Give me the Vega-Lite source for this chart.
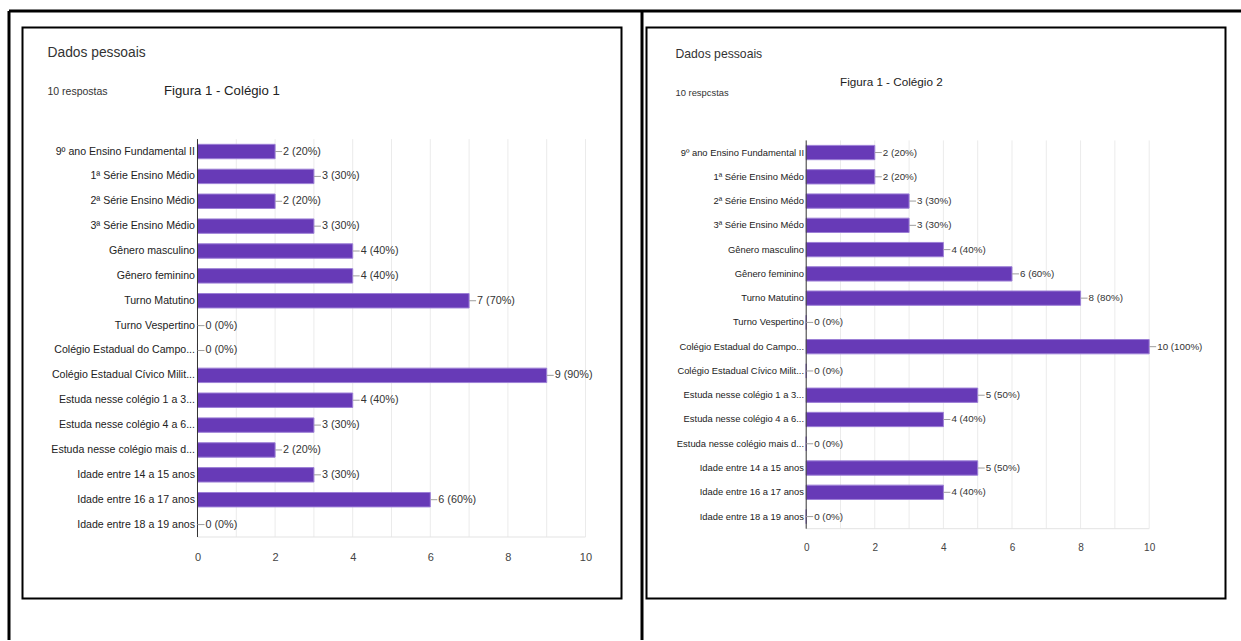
{
  "$schema": "https://vega.github.io/schema/vega-lite/v6.json",
  "padding": {"left": 6.5, "top": 8.5, "right": 0, "bottom": 0},
  "background": "white",
  "config": {
    "font": "Liberation Sans, Arial, sans-serif",
    "view": {"stroke": null},
    "title": {"fontWeight": "normal", "color": "#333", "subtitleColor": "#333"}
  },
  "datasets": {
    "d": [
      {"p": 1, "cat": "9º ano Ensino Fundamental II", "n": 2, "lab": "2 (20%)"},
      {"p": 1, "cat": "1ª Série Ensino Médio", "n": 3, "lab": "3 (30%)"},
      {"p": 1, "cat": "2ª Série Ensino Médio", "n": 2, "lab": "2 (20%)"},
      {"p": 1, "cat": "3ª Série Ensino Médio", "n": 3, "lab": "3 (30%)"},
      {"p": 1, "cat": "Gênero masculino", "n": 4, "lab": "4 (40%)"},
      {"p": 1, "cat": "Gênero feminino", "n": 4, "lab": "4 (40%)"},
      {"p": 1, "cat": "Turno Matutino", "n": 7, "lab": "7 (70%)"},
      {"p": 1, "cat": "Turno Vespertino", "n": 0, "lab": "0 (0%)"},
      {"p": 1, "cat": "Colégio Estadual do Campo...", "n": 0, "lab": "0 (0%)"},
      {"p": 1, "cat": "Colégio Estadual Cívico Milit...", "n": 9, "lab": "9 (90%)"},
      {"p": 1, "cat": "Estuda nesse colégio 1 a 3...", "n": 4, "lab": "4 (40%)"},
      {"p": 1, "cat": "Estuda nesse colégio 4 a 6...", "n": 3, "lab": "3 (30%)"},
      {"p": 1, "cat": "Estuda nesse colégio mais d...", "n": 2, "lab": "2 (20%)"},
      {"p": 1, "cat": "Idade entre 14 a 15 anos", "n": 3, "lab": "3 (30%)"},
      {"p": 1, "cat": "Idade entre 16 a 17 anos", "n": 6, "lab": "6 (60%)"},
      {"p": 1, "cat": "Idade entre 18 a 19 anos", "n": 0, "lab": "0 (0%)"},
      {"p": 2, "cat": "9º ano Ensino Fundamental II", "n": 2, "lab": "2 (20%)"},
      {"p": 2, "cat": "1ª Série Ensino Médo", "n": 2, "lab": "2 (20%)"},
      {"p": 2, "cat": "2ª Série Ensino Médo", "n": 3, "lab": "3 (30%)"},
      {"p": 2, "cat": "3ª Série Ensino Médo", "n": 3, "lab": "3 (30%)"},
      {"p": 2, "cat": "Gênero masculino", "n": 4, "lab": "4 (40%)"},
      {"p": 2, "cat": "Gênero feminino", "n": 6, "lab": "6 (60%)"},
      {"p": 2, "cat": "Turno Matutino", "n": 8, "lab": "8 (80%)"},
      {"p": 2, "cat": "Turno Vespertino", "n": 0, "lab": "0 (0%)"},
      {"p": 2, "cat": "Colégio Estadual do Campo...", "n": 10, "lab": "10 (100%)"},
      {"p": 2, "cat": "Colégio Estadual Cívico Milit...", "n": 0, "lab": "0 (0%)"},
      {"p": 2, "cat": "Estuda nesse colégio 1 a 3...", "n": 5, "lab": "5 (50%)"},
      {"p": 2, "cat": "Estuda nesse colégio 4 a 6...", "n": 4, "lab": "4 (40%)"},
      {"p": 2, "cat": "Estuda nesse colégio mais d...", "n": 0, "lab": "0 (0%)"},
      {"p": 2, "cat": "Idade entre 14 a 15 anos", "n": 5, "lab": "5 (50%)"},
      {"p": 2, "cat": "Idade entre 16 a 17 anos", "n": 4, "lab": "4 (40%)"},
      {"p": 2, "cat": "Idade entre 18 a 19 anos", "n": 0, "lab": "0 (0%)"}
    ],
    "grid": [
      {"g": 0, "top": "9º ano Ensino Fundamental II", "bot": "Idade entre 18 a 19 anos"},
      {"g": 1, "top": "9º ano Ensino Fundamental II", "bot": "Idade entre 18 a 19 anos"},
      {"g": 2, "top": "9º ano Ensino Fundamental II", "bot": "Idade entre 18 a 19 anos"},
      {"g": 3, "top": "9º ano Ensino Fundamental II", "bot": "Idade entre 18 a 19 anos"},
      {"g": 4, "top": "9º ano Ensino Fundamental II", "bot": "Idade entre 18 a 19 anos"},
      {"g": 5, "top": "9º ano Ensino Fundamental II", "bot": "Idade entre 18 a 19 anos"},
      {"g": 6, "top": "9º ano Ensino Fundamental II", "bot": "Idade entre 18 a 19 anos"},
      {"g": 7, "top": "9º ano Ensino Fundamental II", "bot": "Idade entre 18 a 19 anos"},
      {"g": 8, "top": "9º ano Ensino Fundamental II", "bot": "Idade entre 18 a 19 anos"},
      {"g": 9, "top": "9º ano Ensino Fundamental II", "bot": "Idade entre 18 a 19 anos"},
      {"g": 10, "top": "9º ano Ensino Fundamental II", "bot": "Idade entre 18 a 19 anos"}
    ],
    "frame": [{"v": 0}]
  },
  "bounds": "flush",
  "spacing": 0,
  "vconcat": [
    {
      "width": 1233, "height": 17,
      "data": {"name": "frame"},
      "mark": {"type": "point", "size": 0, "opacity": 0},
      "encoding": {
        "x": {"field": "v", "type": "quantitative", "scale": {"domain": [0, 1233], "nice": false, "zero": false},
          "axis": {"orient": "top", "values": [0, 633], "labels": false, "ticks": true, "tickSize": -629, "tickWidth": 3, "tickColor": "black", "grid": false, "title": null, "domainColor": "black", "domainWidth": 3}}
      }
    },
    {
      "bounds": "flush",
      "spacing": 0,
      "hconcat": [
        {
          "width": 14, "height": 571,
          "data": {"name": "frame"},
          "mark": {"type": "point", "size": 0, "opacity": 0}
        },
        {
          "width": 599, "height": 571,
          "view": {"stroke": "black", "strokeWidth": 2},
          "title": {"text": "Dados pessoais", "subtitle": "10 respostas", "anchor": "start", "frame": "group", "offset": -70, "dx": 25, "fontSize": 13.8, "subtitleFontSize": 10.5, "subtitlePadding": 27},
          "resolve": {"axis": {"x": "independent", "y": "independent"}},
          "layer": [
            {
              "data": {"name": "grid"},
              "transform": [{"filter": "datum.g > 0"}],
              "mark": {"type": "rule", "color": "#ebebeb", "strokeWidth": 1},
              "encoding": {
                "x": {"field": "g", "type": "quantitative", "axis": null},
                "y": {"field": "top", "type": "nominal", "bandPosition": -0.362, "axis": null},
                "y2": {"field": "bot", "bandPosition": 1.362}
              }
            },
            {
              "data": {"name": "grid"},
              "transform": [{"filter": "datum.g == 0"}],
              "mark": {"type": "rule", "color": "#e3e3e3", "strokeWidth": 1},
              "encoding": {
                "x": {"field": "g", "type": "quantitative", "axis": null},
                "x2": {"datum": 10},
                "y": {"field": "bot", "type": "nominal", "bandPosition": 1.362, "axis": null}
              }
            },
            {
              "data": {"name": "d"},
              "transform": [{"filter": "datum.p == 1"}],
              "mark": {"type": "bar", "color": "#673ab7", "stroke": "#9c7fd6", "strokeWidth": 1},
              "encoding": {
                "x": {"field": "n", "type": "quantitative",
                  "scale": {"domain": [-4.51, 10.928], "nice": false, "zero": false},
                  "axis": {"values": [0, 2, 4, 6, 8, 10], "domain": false, "ticks": false, "grid": false, "offset": -50, "labelPadding": 3, "title": null, "labelFontSize": 11, "labelColor": "#444"}},
                "y": {"field": "cat", "type": "nominal",
                  "scale": {"type": "band", "domain": ["9º ano Ensino Fundamental II", "1ª Série Ensino Médio", "2ª Série Ensino Médio", "3ª Série Ensino Médio", "Gênero masculino", "Gênero feminino", "Turno Matutino", "Turno Vespertino", "Colégio Estadual do Campo...", "Colégio Estadual Cívico Milit...", "Estuda nesse colégio 1 a 3...", "Estuda nesse colégio 4 a 6...", "Estuda nesse colégio mais d...", "Idade entre 14 a 15 anos", "Idade entre 16 a 17 anos", "Idade entre 18 a 19 anos"], "range": [111.6, 509.5], "paddingInner": 0.42, "paddingOuter": 0.21},
                  "axis": {"orient": "left", "offset": -175, "domain": false, "ticks": false, "labelPadding": 3, "labelFontSize": 10.6, "labelColor": "#222", "labelLimit": 400, "title": "Figura 1 - Colégio 1", "titleAngle": 0, "titleAlign": "left", "titleBaseline": "middle", "titleX": -34, "titleY": 63, "titleFontSize": 13.2, "titleFontWeight": "normal", "titleColor": "#222"}}
              }
            },
            {
              "data": {"name": "grid"},
              "transform": [{"filter": "datum.g == 0"}],
              "mark": {"type": "rule", "color": "#333", "strokeWidth": 1},
              "encoding": {
                "x": {"field": "g", "type": "quantitative", "axis": null},
                "y": {"field": "top", "type": "nominal", "bandPosition": -0.362, "axis": null},
                "y2": {"field": "bot", "bandPosition": 1.362}
              }
            },
            {
              "data": {"name": "d"},
              "transform": [{"filter": "datum.p == 1"}],
              "mark": {"type": "rule", "x2Offset": 7, "color": "#9e9e9e", "strokeWidth": 1},
              "encoding": {
                "x": {"field": "n", "type": "quantitative", "axis": null},
                "x2": {"field": "n"},
                "y": {"field": "cat", "type": "nominal", "axis": null}
              }
            },
            {
              "data": {"name": "d"},
              "transform": [{"filter": "datum.p == 1"}],
              "mark": {"type": "text", "align": "left", "baseline": "middle", "dx": 8, "fontSize": 10.8, "color": "#333"},
              "encoding": {
                "x": {"field": "n", "type": "quantitative", "axis": null},
                "y": {"field": "cat", "type": "nominal", "axis": null},
                "text": {"field": "lab"}
              }
            }
          ]
        },
        {
          "width": 25, "height": 571,
          "data": {"name": "frame"},
          "mark": {"type": "point", "size": 0, "opacity": 0}
        },
        {
          "width": 579, "height": 571,
          "view": {"stroke": "black", "strokeWidth": 2},
          "title": {"text": "Dados pessoais", "subtitle": "10 respcstas", "anchor": "start", "frame": "group", "offset": -70, "dx": 29, "fontSize": 12.2, "subtitleFontSize": 9.4, "subtitlePadding": 29},
          "resolve": {"axis": {"x": "independent", "y": "independent"}},
          "layer": [
            {
              "data": {"name": "grid"},
              "transform": [{"filter": "datum.g > 0"}],
              "mark": {"type": "rule", "color": "#ebebeb", "strokeWidth": 1},
              "encoding": {
                "x": {"field": "g", "type": "quantitative", "axis": null},
                "y": {"field": "top", "type": "nominal", "bandPosition": -0.347, "axis": null},
                "y2": {"field": "bot", "bandPosition": 1.347}
              }
            },
            {
              "data": {"name": "grid"},
              "transform": [{"filter": "datum.g == 0"}],
              "mark": {"type": "rule", "color": "#e3e3e3", "strokeWidth": 1},
              "encoding": {
                "x": {"field": "g", "type": "quantitative", "axis": null},
                "x2": {"datum": 10},
                "y": {"field": "bot", "type": "nominal", "bandPosition": 1.347, "axis": null}
              }
            },
            {
              "data": {"name": "d"},
              "transform": [{"filter": "datum.p == 2"}],
              "mark": {"type": "bar", "color": "#673ab7", "stroke": "#9c7fd6", "strokeWidth": 1},
              "encoding": {
                "x": {"field": "n", "type": "quantitative",
                  "scale": {"domain": [-4.656, 12.225], "nice": false, "zero": false},
                  "axis": {"values": [0, 2, 4, 6, 8, 10], "domain": false, "ticks": false, "grid": false, "offset": -59, "labelPadding": 3, "title": null, "labelFontSize": 10, "labelColor": "#444"}},
                "y": {"field": "cat", "type": "nominal",
                  "scale": {"type": "band", "domain": ["9º ano Ensino Fundamental II", "1ª Série Ensino Médo", "2ª Série Ensino Médo", "3ª Série Ensino Médo", "Gênero masculino", "Gênero feminino", "Turno Matutino", "Turno Vespertino", "Colégio Estadual do Campo...", "Colégio Estadual Cívico Milit...", "Estuda nesse colégio 1 a 3...", "Estuda nesse colégio 4 a 6...", "Estuda nesse colégio mais d...", "Idade entre 14 a 15 anos", "Idade entre 16 a 17 anos", "Idade entre 18 a 19 anos"], "range": [112.9, 501.2], "paddingInner": 0.41, "paddingOuter": 0.205},
                  "axis": {"orient": "left", "offset": -160, "domain": false, "ticks": false, "labelPadding": 3, "labelFontSize": 9.4, "labelColor": "#222", "labelLimit": 400, "title": "Figura 1 - Colégio 2", "titleAngle": 0, "titleAlign": "left", "titleBaseline": "middle", "titleX": 33, "titleY": 54, "titleFontSize": 11.7, "titleFontWeight": "normal", "titleColor": "#222"}}
              }
            },
            {
              "data": {"name": "grid"},
              "transform": [{"filter": "datum.g == 0"}],
              "mark": {"type": "rule", "color": "#333", "strokeWidth": 1},
              "encoding": {
                "x": {"field": "g", "type": "quantitative", "axis": null},
                "y": {"field": "top", "type": "nominal", "bandPosition": -0.347, "axis": null},
                "y2": {"field": "bot", "bandPosition": 1.347}
              }
            },
            {
              "data": {"name": "d"},
              "transform": [{"filter": "datum.p == 2"}],
              "mark": {"type": "rule", "x2Offset": 7, "color": "#9e9e9e", "strokeWidth": 1},
              "encoding": {
                "x": {"field": "n", "type": "quantitative", "axis": null},
                "x2": {"field": "n"},
                "y": {"field": "cat", "type": "nominal", "axis": null}
              }
            },
            {
              "data": {"name": "d"},
              "transform": [{"filter": "datum.p == 2"}],
              "mark": {"type": "text", "align": "left", "baseline": "middle", "dx": 8, "fontSize": 9.8, "color": "#333"},
              "encoding": {
                "x": {"field": "n", "type": "quantitative", "axis": null},
                "y": {"field": "cat", "type": "nominal", "axis": null},
                "text": {"field": "lab"}
              }
            }
          ]
        }
      ]
    }
  ]
}
